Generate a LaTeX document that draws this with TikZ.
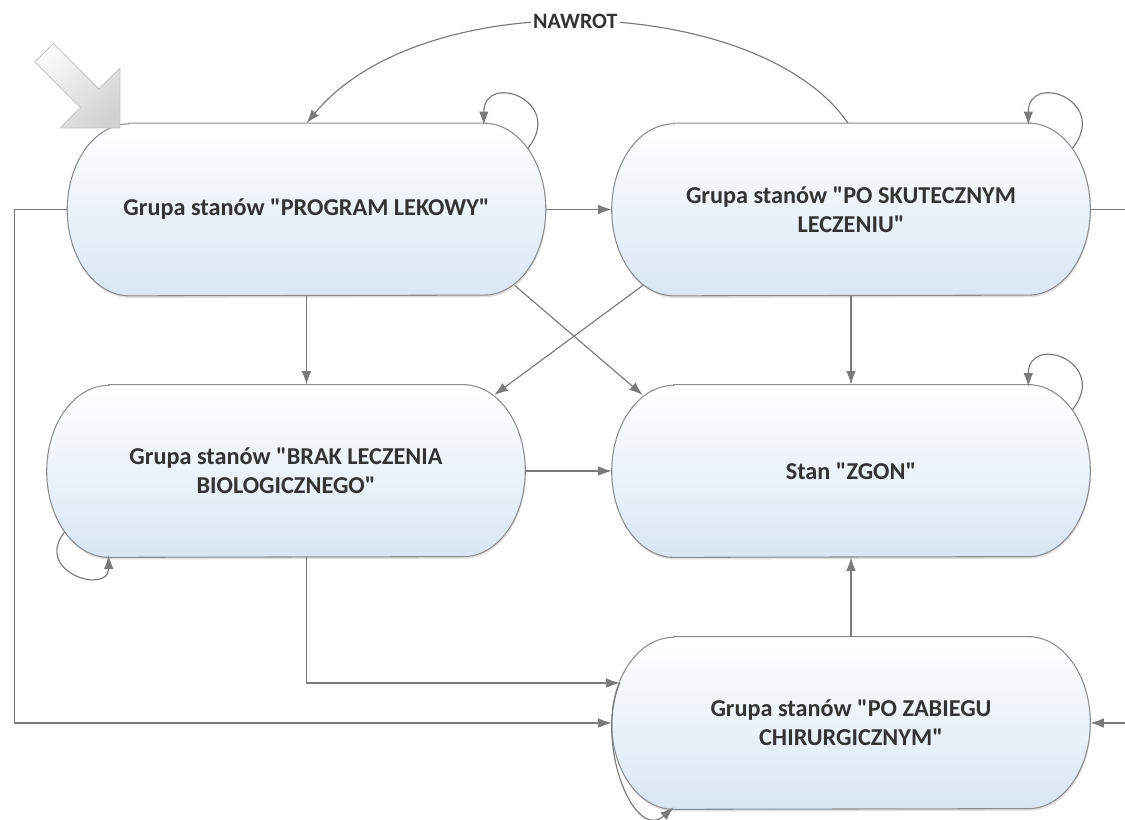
\documentclass[tikz,border=0pt]{standalone}
\usepackage{fontspec}
\setmainfont{Carlito}
\newfontfamily\stanfont{Carlito}
\usetikzlibrary{arrows.meta}
\usetikzlibrary{calc}
\usetikzlibrary{backgrounds}
\usetikzlibrary{shadows}

\definecolor{stanblue}{HTML}{DAE6F5}
\definecolor{stanline}{HTML}{8C8C8C}
\definecolor{strzalka}{HTML}{7A7A7A}
\definecolor{tekst}{HTML}{333333}

\begin{document}
\begin{tikzpicture}[x=0.02cm, y=0.02cm,
  stan/.style={shape=rectangle, minimum width=9.56cm, minimum height=3.44cm, inner sep=0pt, align=center, text=tekst, font={\stanfont\bfseries\fontsize{13.8}{16.5}\selectfont}},
  ksztalt/.style={draw=stanline, line width=0.6pt, top color=white, middle color=white!55!stanblue, bottom color=stanblue, drop shadow={shadow xshift=0.4pt, shadow yshift=-1.2pt, opacity=0.25}},
  przejscie/.style={draw=strzalka, line width=0.65pt, -{Latex[length=2.7mm,width=1.9mm]}},
  etykieta/.style={fill=white, inner sep=1.5pt, text=tekst, font={\stanfont\bfseries\fontsize{12.5}{14}\selectfont}},
  wejscie/.style={draw=gray!45, line width=0.5pt, top color=gray!4, bottom color=gray!35, shading angle=45}]

\useasboundingbox (0,0) rectangle (1125,-820);

\node [stan] (pl) at (306.5,-209.5) {Grupa stanów "PROGRAM LEKOWY"};
\node [stan] (ps) at (851,-209.5) {Grupa stanów "PO SKUTECZNYM\\LECZENIU"};
\node [stan] (bl) at (286,-471) {Grupa stanów "BRAK LECZENIA\\BIOLOGICZNEGO"};
\node [stan] (zg) at (851,-471) {Stan "ZGON"};
\node [stan] (pz) at (851,-723) {Grupa stanów "PO ZABIEGU\\CHIRURGICZNYM"};

% ksztalty stanow
\begin{scope}[on background layer]
\fill [white] (0,0) rectangle (1125,-820);
\foreach \n in {pl,ps,bl,zg,pz}
  \path [ksztalt] ($(\n.north west)+(62,0)$) -- ($(\n.north east)+(-62,0)$) arc[start angle=90, end angle=-90, x radius=1.24cm, y radius=1.72cm] -- ($(\n.south west)+(62,0)$) arc[start angle=270, end angle=90, x radius=1.24cm, y radius=1.72cm] -- cycle;
\end{scope}

% stan poczatkowy
\path [wejscie] (53.5,-43.5) -- (99,-89) -- (120,-68) -- (120,-128) -- (60,-128) -- (80.5,-107.5) -- (35,-62) -- cycle;

% przejscia
\draw [przejscie] (pl.east) -- (ps.west);
\draw [przejscie] (pl.south) -- (pl.south |- bl.north);
\draw [przejscie] ($(pl.east)+(-31,-76)$) -- ($(zg.west)+(31,76)$);
\draw [przejscie] ($(ps.west)+(31,-76)$) -- ($(bl.east)+(-31,76)$);
\draw [przejscie] (ps.south) -- (zg.north);
\draw [przejscie] (bl.east) -- (zg.west);
\draw [przejscie] (pz.north) -- (zg.south);
\draw [przejscie] (pl.south |- bl.south) |- ($(pz.west)+(8,40)$);
\draw [przejscie] (pl.west) -- ++(-53,0) |- (pz.west);
\draw [przejscie] (ps.east) -- ++(60,0) |- (pz.east);
\draw [przejscie] ($(ps.north)+(-3,0)$) .. controls +(-88,128) and +(118,142) .. (pl.north) node [etykieta, pos=0.52] (nawrot) {NAWROT};

% petle
\draw [przejscie] ($(pl.east)+(-18,61)$) .. controls +(38,48) and +(0,54) .. ($(pl.north east)+(-62,-2)$);
\draw [przejscie] ($(ps.east)+(-18,61)$) .. controls +(38,48) and +(0,54) .. ($(ps.north east)+(-62,-2)$);
\draw [przejscie] ($(zg.east)+(-18,61)$) .. controls +(38,48) and +(0,54) .. ($(zg.north east)+(-62,-2)$);
\draw [przejscie] ($(bl.west)+(18,-61)$) .. controls +(-32,-40) and +(0,-40) .. ($(bl.south west)+(62,2)$);
\draw [przejscie] ($(pz.west)+(8,40)$) .. controls +(-25,-60) and +(-40,-35) .. ($(pz.south west)+(62,2)$);
\end{tikzpicture}
\end{document}
